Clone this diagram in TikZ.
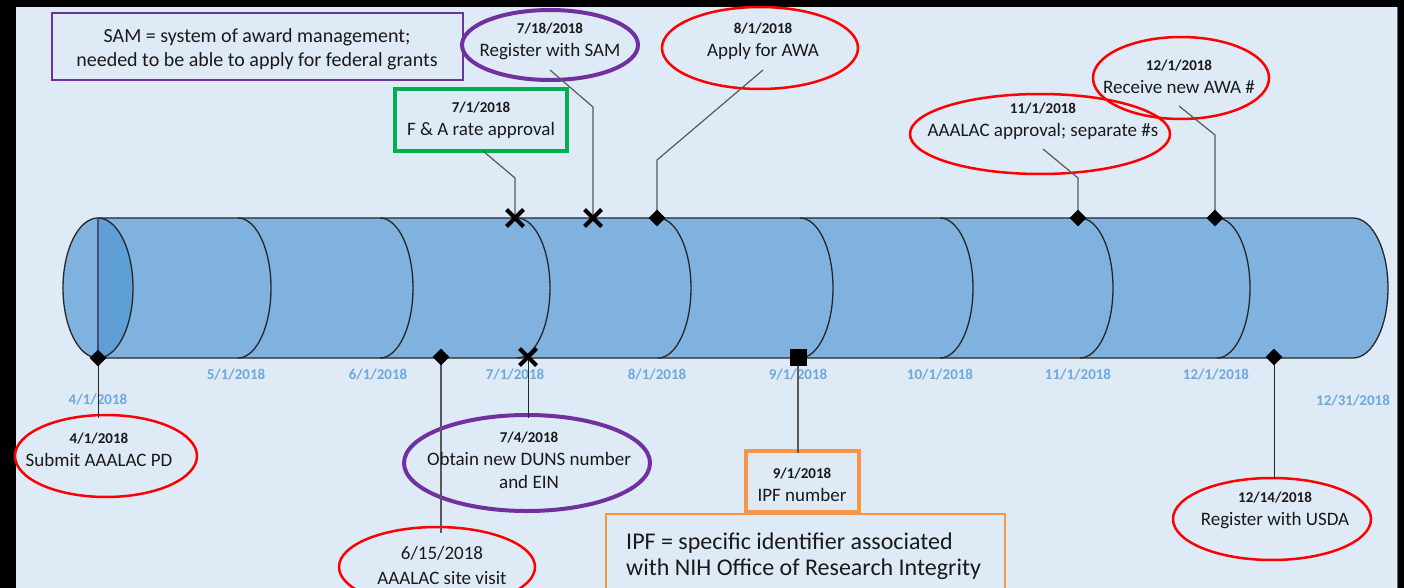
\documentclass[tikz,border=0pt]{standalone}
\usepackage{fontspec}
\setmainfont{Carlito}
\usetikzlibrary{shapes.geometric,shapes.misc}
\definecolor{bgc}{HTML}{DEEAF6}
\definecolor{cylc}{HTML}{80B2E0}
\definecolor{cyld}{HTML}{5E9FD6}
\definecolor{mlab}{HTML}{6FA8DC}
\definecolor{cred}{HTML}{FF0000}
\definecolor{cpur}{HTML}{7030A0}
\definecolor{cgrn}{HTML}{00B050}
\definecolor{corg}{HTML}{F79646}
\definecolor{txtc}{HTML}{1A1A1A}
\newcommand\cdate[1]{{\bfseries\fontsize{15}{23}\selectfont #1}}
\tikzset{
  conn/.style={draw=black!65, line width=1.2pt},
  dmd/.style={diamond, fill=black, inner sep=0pt, minimum width=17pt, minimum height=17pt},
  xmk/.style={cross out, draw=black, line width=4pt, inner sep=0pt, minimum size=13pt},
  sqm/.style={rectangle, fill=black, inner sep=0pt, minimum size=17pt},
  callR/.style={ellipse, draw=cred, line width=2.5pt, inner sep=0pt},
  callP/.style={ellipse, draw=cpur, line width=4pt, inner sep=0pt},
  ctext/.style={align=center, font=\fontsize{19}{23}\selectfont, text=txtc, inner sep=0pt},
  mlabel/.style={font=\bfseries\fontsize{15}{18}\selectfont, text=mlab, inner sep=0pt},
  arcl/.style={draw=black!85, line width=1.3pt}
}
\begin{document}
\begin{tikzpicture}[x=1pt,y=-1pt]
\useasboundingbox (0,0) rectangle (1404,588);
\fill[black] (0,0) rectangle (1404,588);
\fill[bgc] (16,7) rectangle (1397,588);
\draw[black!60, line width=0.8pt] (1397,7) -- (1397,588);

% cylinder body
\fill[cylc] (98,218) -- (1353,218) arc[start angle=-90,end angle=90,x radius=35,y radius=70] -- (98,358) -- cycle;
\draw[arcl] (98,218) -- (1353,218) arc[start angle=-90,end angle=90,x radius=35,y radius=70] -- (98,358);
\foreach \cx in {238,380,517,658,800,940,1080,1217} {
  \draw[arcl] (\cx,218) arc[start angle=-90,end angle=90,x radius=33,y radius=70];
}
% left end
\fill[cylc] (98,288) ellipse[x radius=35,y radius=70];
\fill[cyld] (98,218) arc[start angle=-90,end angle=90,x radius=35,y radius=70] -- cycle;
\draw[arcl] (98,288) ellipse[x radius=35,y radius=70];
\draw[draw=black!55!blue!40!gray, line width=1.2pt] (98,218) -- (98,358);

% month labels
\node[mlabel] (l4) at (98,400) {4/1/2018};
\node[mlabel] (l5) at (236,375) {5/1/2018};
\node[mlabel] (l6) at (378,375) {6/1/2018};
\node[mlabel] (l7) at (515,375) {7/1/2018};
\node[mlabel] (l8) at (657,375) {8/1/2018};
\node[mlabel] (l9) at (798,375) {9/1/2018};
\node[mlabel] (l10) at (940,375) {10/1/2018};
\node[mlabel] (l11) at (1078,375) {11/1/2018};
\node[mlabel] (l12) at (1216,375) {12/1/2018};
\node[mlabel] (l1231) at (1353,401) {12/31/2018};

% callout shapes
\node[draw=cpur, line width=2pt, minimum width=411pt, minimum height=67pt, inner sep=0pt] (sambox) at (257.5,46.5) {};
\node[callP, minimum width=176pt, minimum height=70pt] (sam) at (550,45) {};
\node[draw=cgrn, line width=3.5pt, minimum width=172pt, minimum height=62pt, inner sep=0pt] (fa) at (481,120) {};
\node[callR, minimum width=196pt, minimum height=82pt] (awa) at (760,48) {};
\node[callR, minimum width=260pt, minimum height=80pt] (aapp) at (1040,134) {};
\node[callR, minimum width=176pt, minimum height=82pt] (rawa) at (1181,78) {};
\node[callR, minimum width=182pt, minimum height=82pt] (pd) at (106,456) {};
\node[callP, minimum width=246pt, minimum height=96pt] (duns) at (527,463) {};
\node[callR, minimum width=196pt, minimum height=80pt] (visit) at (437,567) {};
\node[draw=corg, line width=3.5pt, minimum width=113pt, minimum height=61pt, inner sep=0pt] (ipf) at (802.5,481.5) {};
\node[draw=corg, line width=1.5pt, minimum width=399pt, minimum height=110pt, inner sep=0pt] (ipfx) at (805.5,569) {};
\node[callR, minimum width=198pt, minimum height=82pt] (usda) at (1272,519) {};

% marker positions
\coordinate (mfa) at (515,218);
\coordinate (msam) at (593,218);
\coordinate (mawa) at (657,218);
\coordinate (maapp) at (1078,218);
\coordinate (mrawa) at (1215,218);
\coordinate (mpd) at (98,358);
\coordinate (mvisit) at (441,357);
\coordinate (mduns) at (528,357);
\coordinate (mipf) at (798,357);
\coordinate (musda) at (1274,357);

% bends and ends
\coordinate (bfa) at (515,178); \coordinate (efa) at (483,151);
\coordinate (bsam) at (593,107); \coordinate (esam) at (550,70);
\coordinate (bawa) at (657,160); \coordinate (eawa) at (763,70);
\coordinate (baapp) at (1078,178); \coordinate (eaapp) at (1043,149);
\coordinate (brawa) at (1215,135); \coordinate (erawa) at (1179,106);
\coordinate (epd) at (98,418);
\coordinate (evisit) at (441,533);
\coordinate (eduns) at (528,418);
\coordinate (eipf) at (798,453);
\coordinate (eusda) at (1274,479);

\draw[conn] (mfa) -- (bfa) -- (efa);
\draw[conn] (msam) -- (bsam) -- (esam);
\draw[conn] (mawa) -- (bawa) -- (eawa);
\draw[conn] (maapp) -- (baapp) -- (eaapp);
\draw[conn] (mrawa) -- (brawa) -- (erawa);
\draw[conn, draw=black!85, line width=1pt] (mpd) -- (epd);
\draw[conn] (mvisit) -- (evisit);
\draw[conn, draw=black!85, line width=1pt] (mduns) -- (eduns);
\draw[conn] (mipf) -- (eipf);
\draw[conn, draw=black!85, line width=1pt] (musda) -- (eusda);

% markers on top
\node[xmk] (xfa) at (mfa) {};
\node[xmk] (xsam) at (msam) {};
\node[dmd] (dawa) at (mawa) {};
\node[dmd] (daapp) at (maapp) {};
\node[dmd] (drawa) at (mrawa) {};
\node[dmd] (dpd) at (mpd) {};
\node[dmd] (dvisit) at (mvisit) {};
\node[xmk] (xduns) at (mduns) {};
\node[sqm] (sipf) at (mipf) {};
\node[dmd] (dusda) at (musda) {};

% texts
\node[ctext, font=\fontsize{20}{24}\selectfont] (tsambox) at (257,49) {SAM = system of award management;\\needed to be able to apply for federal grants};
\node[ctext] (tsam) at (550,41) {\cdate{7/18/2018}\\Register with SAM};
\node[ctext] (tfa) at (481,120.5) {\cdate{7/1/2018}\\F \& A rate approval};
\node[ctext] (tawa) at (763,41) {\cdate{8/1/2018}\\Apply for AWA};
\node[ctext] (taapp) at (1043,121) {\cdate{11/1/2018}\\AAALAC approval; separate \#s};
\node[ctext] (trawa) at (1179,77) {\cdate{12/1/2018}\\Receive new AWA \#};
\node[ctext] (tpd) at (99,449.5) {\cdate{4/1/2018}\\Submit AAALAC PD};
\node[ctext] (tduns) at (529,460) {\cdate{7/4/2018}\\Obtain new DUNS number\\and EIN};
\node[ctext, font=\fontsize{19}{25}\selectfont] (tvisit) at (442,565.5) {6/15/2018\\AAALAC site visit};
\node[ctext] (tipf) at (802,484.5) {\cdate{9/1/2018}\\IPF number};
\node[ctext, align=left, anchor=west, font=\fontsize{24}{26}\selectfont] (tipfx) at (626,556) {IPF = specific identifier associated\\with NIH Office of Research Integrity};
\node[ctext] (tusda) at (1275,510.5) {\cdate{12/14/2018}\\Register with USDA};
\end{tikzpicture}
\end{document}
